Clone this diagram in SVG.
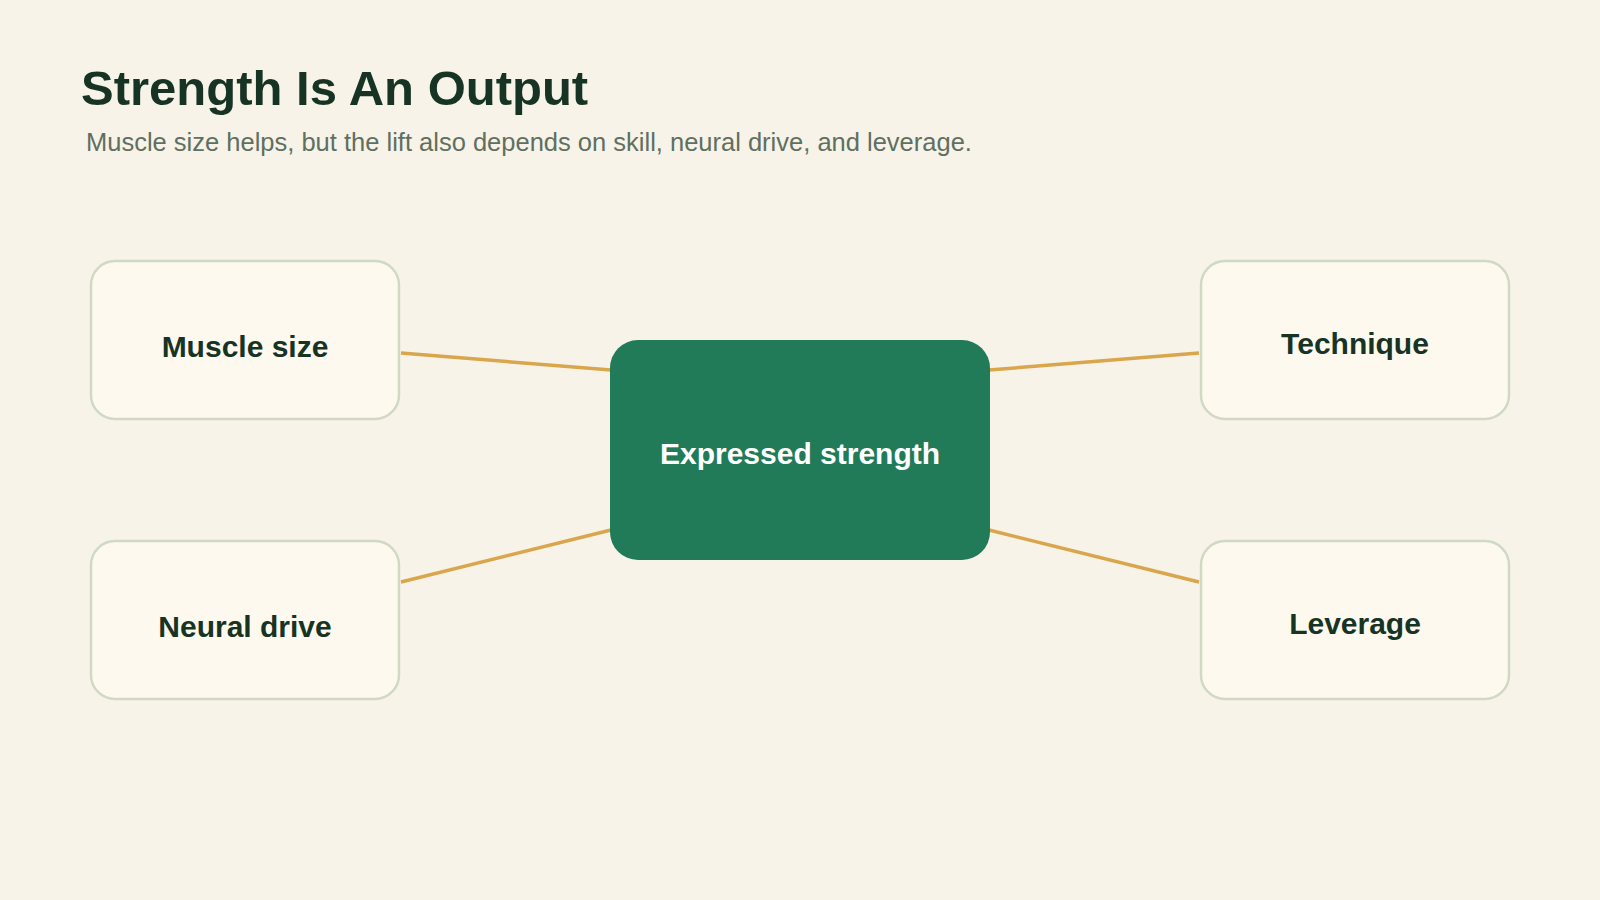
<svg xmlns="http://www.w3.org/2000/svg" width="1600" height="900" viewBox="0 0 1600 900">
<style>
.bg{fill:#f7f3e8}
.node rect{fill:#fdf9ef;stroke:#d1d9c5;stroke-width:2.5}
.node text{font-family:"Liberation Sans",Arial,sans-serif;font-weight:bold;font-size:30px;fill:#173324;text-anchor:middle}
.hub rect{fill:#217b58}
.hub text{font-family:"Liberation Sans",Arial,sans-serif;font-weight:bold;font-size:30px;fill:#ffffff;text-anchor:middle}
.edge{stroke:#d9a64c;stroke-width:3.5;fill:none}
.title{font-family:"Liberation Sans",Arial,sans-serif;font-weight:bold;font-size:49px;fill:#173324}
.sub{font-family:"Liberation Sans",Arial,sans-serif;font-size:25.5px;fill:#5f6f60}
</style>
<rect class="bg" x="0" y="0" width="1600" height="900"/>
<text class="title" x="81" y="105">Strength Is An Output</text>
<text class="sub" x="86" y="151">Muscle size helps, but the lift also depends on skill, neural drive, and leverage.</text>
<g id="connectors">
<line class="edge" x1="401" y1="353" x2="611" y2="370"/>
<line class="edge" x1="989" y1="370" x2="1199" y2="353"/>
<line class="edge" x1="401" y1="582" x2="611" y2="530"/>
<line class="edge" x1="989" y1="530" x2="1199" y2="582"/>
</g>
<g id="node-muscle-size" class="node">
<rect x="91" y="261" width="308" height="158" rx="24"/>
<text x="245" y="357">Muscle size</text>
</g>
<g id="node-technique" class="node">
<rect x="1201" y="261" width="308" height="158" rx="24"/>
<text x="1355" y="354">Technique</text>
</g>
<g id="node-neural-drive" class="node">
<rect x="91" y="541" width="308" height="158" rx="24"/>
<text x="245" y="637">Neural drive</text>
</g>
<g id="node-leverage" class="node">
<rect x="1201" y="541" width="308" height="158" rx="24"/>
<text x="1355" y="634">Leverage</text>
</g>
<g id="node-expressed-strength" class="hub">
<rect x="610" y="340" width="380" height="220" rx="28"/>
<text x="800" y="464">Expressed strength</text>
</g>
</svg>
